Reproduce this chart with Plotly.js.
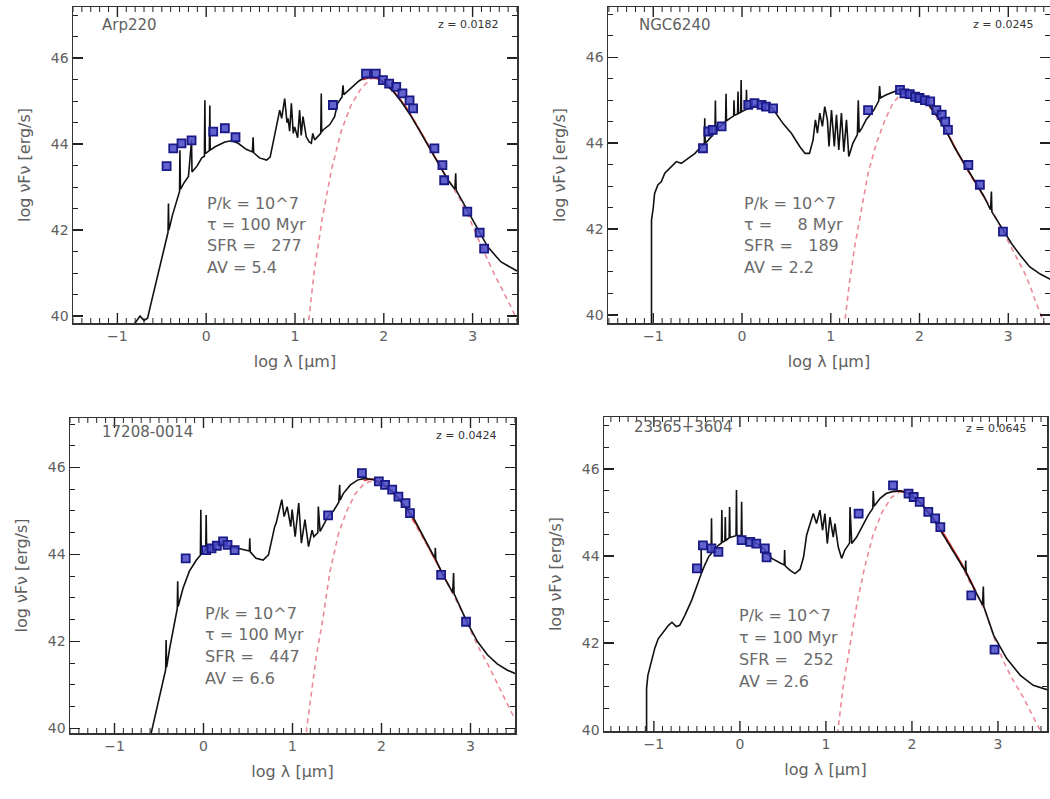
<!DOCTYPE html>
<html>
<head>
<meta charset="utf-8">
<script src="https://cdn.plot.ly/plotly-3.0.1.min.js"></script>
<style>html,body{margin:0;padding:0;background:#fff;}#chart{width:1050px;height:799px;}</style>
</head>
<body>
<div id="chart"></div>
<script>
// ---------------- data ----------------
const names = ['Arp220', 'NGC6240', '17208-0014', '23365+3604'];
const redshifts = ['0.0182', '0.0245', '0.0424', '0.0645'];
const pressures = ['10^7', '10^7', '10^7', '10^7'];
const ages = ['100', '8', '100', '100'];
const sfrs = ['277', '189', '447', '252'];
const avs = ['5.4', '2.2', '6.6', '2.6'];

// Arp220
const p1ModelX = [-0.85,-0.78,-0.745,-0.70,-0.66,-0.63,-0.577,-0.50,-0.46,-0.43,-0.425,-0.42,-0.38,-0.35,-0.30,-0.296,-0.29,-0.25,-0.20,-0.165,-0.16,-0.10,-0.05,-0.02,-0.015,-0.01,0.035,0.041,0.045,0.10,0.21,0.285,0.36,0.45,0.52,0.528,0.535,0.60,0.68,0.72,0.76,0.80,0.828,0.85,0.884,0.91,0.921,0.94,0.959,0.98,0.996,1.03,1.052,1.07,1.09,1.127,1.16,1.184,1.20,1.221,1.26,1.29,1.296,1.30,1.315,1.39,1.446,1.48,1.53,1.54,1.55,1.60,1.65,1.72,1.80,1.87,1.93,2.00,2.10,2.20,2.31,2.42,2.52,2.63,2.72,2.80,2.81,2.815,2.85,2.94,3.06,3.17,3.32,3.47,3.5];
const p1ModelY = [39.7,39.9,40.0,39.9,39.95,40.22,40.68,41.38,41.7,41.95,42.62,42.0,42.35,42.58,42.9,43.86,42.95,43.1,43.25,44.09,43.35,43.5,43.68,43.72,45.02,43.78,43.85,44.9,43.86,43.94,44.05,44.08,44.02,43.88,43.82,44.16,43.8,43.68,43.63,43.70,44.1,44.5,44.79,44.6,45.06,44.5,44.6,44.3,44.95,44.25,44.4,44.15,44.79,44.2,44.64,44.17,44.05,44.02,44.25,44.1,44.2,44.25,45.18,44.28,44.33,44.45,44.64,44.95,45.1,45.37,45.15,45.25,45.35,45.47,45.57,45.58,45.55,45.43,45.24,44.98,44.64,44.25,43.9,43.5,43.17,42.95,43.32,42.93,42.8,42.47,42.0,41.61,41.26,41.07,41.05];
const p1DustX = [1.14,1.16,1.22,1.31,1.41,1.52,1.63,1.745,1.86,1.95,2.05,2.15,2.25,2.35,2.45,2.55,2.65,2.75,2.85,2.95,3.05,3.15,3.25,3.35,3.45,3.52];
const p1DustY = [39.7,40.0,41.1,42.3,43.4,44.3,44.9,45.3,45.53,45.52,45.38,45.15,44.87,44.52,44.16,43.82,43.43,43.08,42.75,42.35,41.85,41.4,40.95,40.55,40.14,39.8];
const p1FitX = [1.76,1.85,1.95,2.05,2.15,2.25,2.35,2.45,2.55,2.65,2.72];
const p1FitY = [45.5,45.55,45.51,45.37,45.14,44.86,44.52,44.16,43.82,43.43,43.17];
const p1ObsX = [-0.446,-0.371,-0.278,-0.165,0.079,0.21,0.33,1.427,1.80,1.91,1.99,2.06,2.14,2.21,2.29,2.33,2.57,2.66,2.68,2.94,3.08,3.13];
const p1ObsY = [43.49,43.90,44.02,44.09,44.29,44.37,44.16,44.91,45.64,45.64,45.49,45.41,45.33,45.18,45.02,44.83,43.90,43.51,43.16,42.43,41.94,41.57];

// NGC6240
const p2ModelX = [-1.02,-1.02,-1.0,-0.985,-0.947,-0.91,-0.87,-0.80,-0.74,-0.684,-0.61,-0.53,-0.46,-0.425,-0.42,-0.415,-0.38,-0.305,-0.30,-0.295,-0.23,-0.185,-0.18,-0.175,-0.12,-0.095,-0.09,-0.085,-0.05,-0.045,-0.04,-0.015,-0.01,-0.005,0.045,0.05,0.055,0.105,0.22,0.31,0.37,0.46,0.556,0.65,0.71,0.76,0.80,0.827,0.85,0.876,0.906,0.932,0.962,0.98,1.008,1.04,1.064,1.09,1.12,1.147,1.177,1.203,1.25,1.30,1.31,1.32,1.35,1.40,1.48,1.54,1.55,1.56,1.62,1.70,1.78,1.86,1.93,2.02,2.10,2.20,2.30,2.40,2.52,2.62,2.72,2.80,2.81,2.815,2.85,2.94,3.04,3.13,3.24,3.36,3.47,3.5];
const p2ModelY = [39.5,42.2,42.5,42.83,43.03,43.1,43.3,43.45,43.57,43.53,43.65,43.76,43.92,43.98,44.58,44.0,44.07,44.25,44.99,44.28,44.42,44.5,45.15,44.52,44.6,44.63,45.0,44.65,44.68,45.2,44.69,44.72,45.47,44.73,44.78,45.24,44.79,44.85,44.93,44.89,44.73,44.46,44.23,43.92,43.76,43.76,44.07,44.54,44.23,44.70,44.39,44.85,44.54,43.92,44.77,43.92,44.66,43.84,44.7,43.8,44.54,43.69,44.0,44.2,45.0,44.25,44.35,44.55,44.75,44.98,45.33,45.05,45.12,45.18,45.25,45.24,45.18,45.05,44.9,44.62,44.28,43.88,43.45,43.12,42.78,42.45,42.87,42.4,42.28,41.98,41.65,41.4,41.12,40.95,40.83,40.8];
const p2DustX = [1.15,1.16,1.21,1.27,1.35,1.42,1.515,1.61,1.70,1.80,1.88,1.95,2.05,2.15,2.25,2.35,2.45,2.55,2.65,2.75,2.85,2.95,3.04,3.12,3.19,3.25,3.30,3.39,3.45];
const p2DustY = [39.7,39.88,40.74,41.59,42.52,43.3,44.0,44.54,44.93,45.16,45.22,45.17,44.98,44.75,44.45,44.1,43.7,43.33,43.0,42.68,42.3,41.9,41.55,41.2,40.95,40.65,40.35,39.88,39.5];
const p2FitX = [1.78,1.86,1.95,2.05,2.15,2.25,2.35,2.45,2.55,2.65,2.74];
const p2FitY = [45.22,45.23,45.16,45.0,44.78,44.47,44.1,43.7,43.35,43.02,42.7];
const p2ObsX = [-0.44,-0.38,-0.33,-0.23,0.07,0.14,0.22,0.27,0.35,1.42,1.78,1.83,1.89,1.95,2.0,2.06,2.12,2.19,2.25,2.29,2.32,2.55,2.68,2.94];
const p2ObsY = [43.88,44.27,44.31,44.39,44.89,44.93,44.89,44.85,44.81,44.77,45.24,45.16,45.14,45.08,45.05,45.0,44.97,44.77,44.66,44.5,44.31,43.49,43.03,41.94];

// 17208-0014
const p3ModelX = [-0.62,-0.59,-0.53,-0.46,-0.425,-0.42,-0.415,-0.38,-0.31,-0.295,-0.29,-0.285,-0.23,-0.16,-0.08,-0.035,-0.03,-0.025,0.025,0.03,0.035,0.07,0.18,0.29,0.41,0.515,0.52,0.525,0.59,0.67,0.73,0.76,0.80,0.816,0.85,0.88,0.906,0.94,0.98,0.996,1.03,1.07,1.10,1.14,1.18,1.22,1.24,1.285,1.29,1.31,1.36,1.40,1.46,1.52,1.53,1.535,1.57,1.65,1.74,1.82,1.91,2.02,2.14,2.25,2.36,2.47,2.59,2.60,2.605,2.61,2.70,2.80,2.81,2.815,2.89,2.96,3.08,3.19,3.30,3.41,3.5];
const p3ModelY = [39.6,39.88,40.38,41.07,41.35,42.03,41.4,41.84,42.61,42.75,43.38,42.8,43.22,43.61,43.87,43.98,45.03,44.0,44.1,44.91,44.12,44.18,44.26,44.18,44.13,44.08,44.37,44.06,43.91,43.87,43.99,44.3,44.64,44.72,45.03,45.26,44.87,45.1,44.64,45.03,44.41,45.18,44.26,44.8,44.18,44.56,44.41,44.5,45.1,44.53,44.72,44.88,45.0,45.2,45.6,45.25,45.4,45.6,45.72,45.75,45.72,45.6,45.41,45.14,44.84,44.4,43.95,43.92,44.15,43.88,43.49,43.12,43.57,43.1,42.76,42.45,41.99,41.69,41.48,41.34,41.26];
const p3DustX = [1.15,1.16,1.21,1.27,1.34,1.42,1.52,1.61,1.70,1.80,1.90,2.0,2.1,2.2,2.3,2.4,2.5,2.6,2.7,2.8,2.9,3.0,3.1,3.2,3.3,3.4,3.5];
const p3DustY = [39.7,40.0,40.77,41.69,42.5,43.6,44.5,45.0,45.38,45.62,45.7,45.63,45.48,45.25,44.97,44.63,44.26,43.9,43.5,43.1,42.7,42.25,41.82,41.45,41.03,40.62,40.2];
const p3FitX = [1.80,1.90,2.0,2.1,2.2,2.3,2.4,2.5,2.6,2.7,2.76];
const p3FitY = [45.7,45.74,45.65,45.5,45.28,45.0,44.66,44.28,43.9,43.5,43.27];
const p3ObsX = [-0.20,0.03,0.09,0.15,0.22,0.27,0.35,1.40,1.78,1.97,2.04,2.12,2.19,2.27,2.32,2.67,2.95];
const p3ObsY = [43.91,44.1,44.14,44.2,44.3,44.22,44.1,44.9,45.87,45.68,45.6,45.49,45.33,45.18,44.95,43.53,42.45];

// 23365+3604
const p4ModelX = [-1.085,-1.085,-1.07,-1.03,-0.99,-0.95,-0.89,-0.83,-0.79,-0.74,-0.70,-0.64,-0.56,-0.48,-0.452,-0.45,-0.447,-0.41,-0.36,-0.335,-0.33,-0.325,-0.25,-0.215,-0.21,-0.205,-0.175,-0.17,-0.165,-0.125,-0.12,-0.115,-0.045,-0.04,-0.035,0.015,0.02,0.025,0.08,0.17,0.27,0.37,0.48,0.515,0.52,0.525,0.58,0.64,0.70,0.74,0.775,0.814,0.853,0.891,0.93,0.961,0.988,1.016,1.047,1.085,1.105,1.143,1.182,1.22,1.275,1.28,1.30,1.357,1.41,1.49,1.545,1.55,1.56,1.63,1.70,1.78,1.86,1.94,2.02,2.09,2.17,2.25,2.33,2.40,2.48,2.56,2.62,2.625,2.63,2.71,2.82,2.83,2.835,2.95,3.10,3.26,3.41,3.57];
const p4ModelY = [39.5,40.96,41.26,41.57,41.88,42.1,42.26,42.41,42.48,42.38,42.41,42.64,42.99,43.41,43.58,44.2,43.6,43.79,44.0,44.05,44.87,44.08,44.25,44.3,45.06,44.32,44.35,44.9,44.36,44.42,45.13,44.43,44.47,45.52,44.48,44.47,45.25,44.46,44.41,44.33,44.18,43.95,43.83,43.8,44.14,43.78,43.68,43.6,43.7,43.98,44.48,44.71,44.98,44.75,45.06,44.6,44.98,44.29,44.9,44.44,44.75,44.21,43.95,44.14,44.3,45.13,44.29,44.44,44.64,44.94,45.1,45.5,45.15,45.33,45.44,45.49,45.5,45.46,45.35,45.25,45.05,44.85,44.6,44.38,44.12,43.88,43.66,43.9,43.62,43.3,42.88,43.3,42.84,42.18,41.65,41.26,41.03,40.93];
const p4DustX = [1.13,1.14,1.20,1.28,1.36,1.45,1.55,1.65,1.76,1.86,1.96,2.06,2.16,2.26,2.36,2.46,2.56,2.66,2.76,2.86,2.96,3.06,3.16,3.29,3.41,3.51];
const p4DustY = [39.7,40.0,41.0,42.0,42.9,43.75,44.5,45.0,45.35,45.48,45.44,45.28,45.08,44.82,44.5,44.2,43.85,43.45,43.1,42.7,42.1,41.6,41.2,40.77,40.31,39.92];
const p4FitX = [1.78,1.88,1.98,2.08,2.18,2.28,2.38,2.48,2.58,2.68,2.74];
const p4FitY = [45.48,45.5,45.42,45.27,45.05,44.8,44.48,44.16,43.82,43.45,43.2];
const p4ObsX = [-0.50,-0.43,-0.33,-0.25,0.02,0.12,0.19,0.29,0.31,1.38,1.78,1.96,2.02,2.09,2.19,2.27,2.33,2.69,2.96];
const p4ObsY = [43.72,44.25,44.18,44.1,44.37,44.33,44.29,44.18,43.97,44.98,45.63,45.44,45.36,45.25,45.02,44.87,44.67,43.1,41.85];

// ---------------- layout geometry (pixels) ----------------
const W = 1050, H = 799;
const FONT = 'DejaVu Sans, Liberation Sans, Arial, sans-serif';
const TXT = '#606060';
const TICKC = '#222';
const frames = [
  {l: 73,  r: 517,  t: 7,   b: 323, xr: [-1.5, 3.5],   yr: [39.84, 47.19]},
  {l: 608, r: 1050, t: 7,   b: 323, xr: [-1.51, 3.47], yr: [39.81, 47.17]},
  {l: 70,  r: 515,  t: 418, b: 733, xr: [-1.5, 3.5],   yr: [39.89, 47.14]},
  {l: 604, r: 1047, t: 417, b: 731, xr: [-1.58, 3.57], yr: [39.98, 47.2]}
];
const panelData = [
  {mx: p1ModelX, my: p1ModelY, dx: p1DustX, dy: p1DustY, fx: p1FitX, fy: p1FitY, ox: p1ObsX, oy: p1ObsY},
  {mx: p2ModelX, my: p2ModelY, dx: p2DustX, dy: p2DustY, fx: p2FitX, fy: p2FitY, ox: p2ObsX, oy: p2ObsY},
  {mx: p3ModelX, my: p3ModelY, dx: p3DustX, dy: p3DustY, fx: p3FitX, fy: p3FitY, ox: p3ObsX, oy: p3ObsY},
  {mx: p4ModelX, my: p4ModelY, dx: p4DustX, dy: p4DustY, fx: p4FitX, fy: p4FitY, ox: p4ObsX, oy: p4ObsY}
];
const namepos = [[100, 25], [637, 25], [100, 432], [632, 427]];
const zpos = [[500, 25], [1035, 25], [498, 435], [1028, 428]];
const blockpos = [[205, 203, 21.5], [742, 203, 21.5], [203, 613, 21.7], [737, 615, 22.3]];

const traces = [];
const layout = {
  width: W, height: H,
  margin: {l: 0, r: 0, t: 0, b: 0},
  paper_bgcolor: '#fff', plot_bgcolor: '#fff',
  showlegend: false,
  annotations: []
};
const S = '\u00a0';

frames.forEach((f, i) => {
  const n = i + 1;
  const sfx = n === 1 ? '' : String(n);
  const xa = 'x' + sfx, ya = 'y' + sfx;
  const d = panelData[i];
  traces.push({x: d.dx, y: d.dy, xaxis: xa, yaxis: ya, type: 'scatter', mode: 'lines',
    line: {color: '#ec8a98', width: 1.6, dash: '5px,4px'}, hoverinfo: 'skip'});
  traces.push({x: d.fx, y: d.fy, xaxis: xa, yaxis: ya, type: 'scatter', mode: 'lines',
    line: {color: '#e2332c', width: 1.6}, hoverinfo: 'skip'});
  traces.push({x: d.mx, y: d.my, xaxis: xa, yaxis: ya, type: 'scatter', mode: 'lines',
    line: {color: '#111', width: 1.6}, hoverinfo: 'skip'});
  traces.push({x: d.ox, y: d.oy, xaxis: xa, yaxis: ya, type: 'scatter', mode: 'markers',
    marker: {symbol: 'square', size: 8, color: 'rgba(72,72,200,0.85)', line: {color: '#1a1a86', width: 1.8}}, cliponaxis: false});

  // x-axis tick marks along the bottom and top of the box (every 0.1, long at integers)
  const unitsPerPx = (f.yr[1] - f.yr[0]) / (f.b - f.t);
  const k0 = Math.ceil(f.xr[0] * 10 - 1e-9), k1 = Math.floor(f.xr[1] * 10 + 1e-9);
  const majX = [], majY = [], minX = [], minY = [];
  for (let k = k0; k <= k1; k++) {
    const v = k / 10;
    const major = k % 10 === 0;
    const len = (major ? 10 : 5) * unitsPerPx;
    const tx = major ? majX : minX, ty = major ? majY : minY;
    tx.push(v, v, null, v, v, null);
    ty.push(f.yr[0], f.yr[0] + len, null, f.yr[1], f.yr[1] - len, null);
  }
  traces.push({x: majX, y: majY, xaxis: xa, yaxis: ya, type: 'scatter', mode: 'lines',
    line: {color: TICKC, width: 1.4}, hoverinfo: 'skip', connectgaps: false});
  traces.push({x: minX, y: minY, xaxis: xa, yaxis: ya, type: 'scatter', mode: 'lines',
    line: {color: TICKC, width: 1}, hoverinfo: 'skip', connectgaps: false});

  layout['xaxis' + sfx] = {
    domain: [f.l / W, Math.min(1, f.r / W)], range: f.xr.slice(), anchor: ya,
    showgrid: false, zeroline: false, showline: true, linecolor: '#333', linewidth: 1.5, mirror: true,
    ticks: '', dtick: 1, tick0: 0,
    tickfont: {family: FONT, size: 14, color: TXT},
    title: {text: 'log λ [μm]', font: {family: FONT, size: 16, color: TXT}, standoff: 12}
  };
  layout['yaxis' + sfx] = {
    domain: [1 - f.b / H, 1 - f.t / H], range: f.yr.slice(), anchor: xa,
    showgrid: false, zeroline: false, showline: true, linecolor: '#333', linewidth: 1.5, mirror: 'ticks',
    ticks: 'inside', ticklen: 10, tickcolor: TICKC, tickwidth: 1.4,
    dtick: 2, tick0: 40,
    minor: {dtick: 0.5, tick0: 40, ticks: 'inside', ticklen: 5, tickcolor: TICKC, tickwidth: 1},
    tickfont: {family: FONT, size: 14, color: TXT},
    title: {text: 'log νFν [erg/s]', font: {family: FONT, size: 16, color: TXT}, standoff: 16}
  };

  const A = layout.annotations;
  A.push({xref: 'paper', yref: 'paper', x: namepos[i][0] / W, y: 1 - namepos[i][1] / H,
    xanchor: 'left', yanchor: 'middle', showarrow: false, text: names[i],
    font: {family: FONT, size: 15, color: TXT}});
  A.push({xref: 'paper', yref: 'paper', x: zpos[i][0] / W, y: 1 - zpos[i][1] / H,
    xanchor: 'right', yanchor: 'middle', showarrow: false, text: 'z = ' + redshifts[i],
    font: {family: FONT, size: 11, color: '#333'}});
  const lines = [
    'P/k' + S + '=' + S + pressures[i],
    'τ' + S + '=' + S + ages[i].padStart(3, '\u2007') + S + 'Myr',
    'SFR' + S + '=' + S + S + S + sfrs[i],
    'AV' + S + '=' + S + avs[i]
  ];
  lines.forEach((t, k) => {
    A.push({xref: 'paper', yref: 'paper', x: blockpos[i][0] / W, y: 1 - (blockpos[i][1] + k * blockpos[i][2]) / H,
      xanchor: 'left', yanchor: 'middle', showarrow: false, text: t,
      font: {family: FONT, size: 16, color: '#6a6a6a'}});
  });
});

Plotly.newPlot('chart', traces, layout, {staticPlot: true, displayModeBar: false});
</script>
</body>
</html>
